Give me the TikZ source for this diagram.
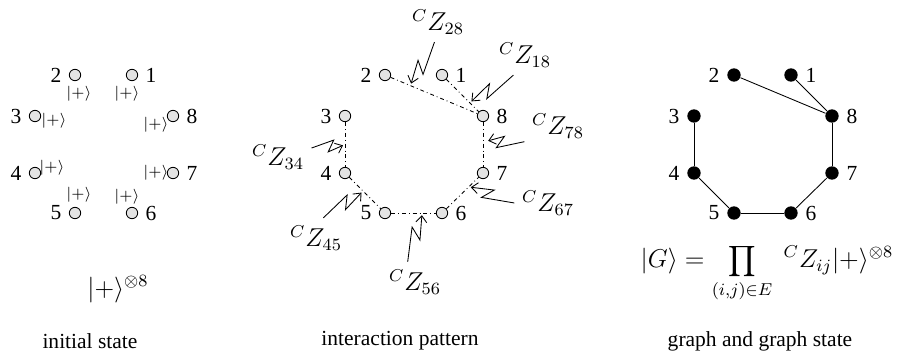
\documentclass[tikz,border=0pt]{standalone}
\usepackage{fontspec}
\setmainfont{Liberation Serif}
\usetikzlibrary{calc,arrows.meta}

\tikzset{
  qubit/.style={circle, draw, thin, fill=gray!22, minimum size=5.3pt, inner sep=0pt},
  vertex/.style={circle, fill=black, minimum size=6.2pt, inner sep=0pt},
  cz edge/.style={dash pattern=on 1.8pt off 1.4pt on 0.4pt off 1.4pt},
  ket/.style={font=\scriptsize, inner sep=0pt},
  zap/.style={-{Straight Barb[length=3pt,width=5pt]}, shorten >=1pt,
    to path={-- ($(\tikztostart)!0.68!(\tikztotarget)!2.6pt!90:(\tikztotarget)$)
             -- ($(\tikztostart)!0.48!(\tikztotarget)!2.6pt!-90:(\tikztotarget)$)
             -- (\tikztotarget) \tikztonodes}},
}

\begin{document}
\begin{tikzpicture}[x=0.465pt, y=-0.465pt]
  \useasboundingbox (0,0) rectangle (905,358);

  % the eight qubits, same layout in all three panels
  \foreach \n/\x/\y/\s in {1/132/75/0, 2/75/75/180, 3/35/116/180, 4/35/173/180,
                           5/75/213/180, 6/132/213/0, 7/173/173/0, 8/173/116/0} {
    \node[qubit, label=\s:\n] (a\n) at (\x,\y) {};
    \node[qubit, label=\s:\n] (b\n) at (\x+310,\y) {};
    \node[vertex, label=\s:\n] (c\n) at (\x+659,\y) {};
  }

  % initial state
  \node[ket] (k1) at (127,94) {$|+\rangle$};
  \node[ket] (k2) at (79,94) {$|+\rangle$};
  \node[ket] (k3) at (54,121) {$|+\rangle$};
  \node[ket] (k4) at (52,168) {$|+\rangle$};
  \node[ket] (k5) at (79,195) {$|+\rangle$};
  \node[ket] (k6) at (127,197) {$|+\rangle$};
  \node[ket] (k7) at (156,173) {$|+\rangle$};
  \node[ket] (k8) at (156,125) {$|+\rangle$};
  \node[font=\large] (init) at (118,289) {$|+\rangle^{\otimes 8}$};

  % interaction pattern and graph
  \foreach \u/\v in {2/8, 1/8, 3/4, 8/7, 4/5, 5/6, 6/7} {
    \draw[cz edge] (b\u) -- (b\v);
    \draw (c\u) -- (c\v);
  }

  \coordinate (e28) at ($(b2)!0.26!(b8)$);
  \coordinate (e18) at ($(b1)!0.68!(b8)$);
  \coordinate (e78) at ($(b8)!0.46!(b7)$);
  \coordinate (e67) at ($(b6)!0.65!(b7)$);
  \coordinate (e34) at ($(b3)!0.5!(b4)$);
  \coordinate (e45) at ($(b4)!0.45!(b5)$);
  \coordinate (e56) at ($(b5)!0.65!(b6)$);

  \node[font=\large] (z28) at (438,22) {${}^{C}Z_{28}$};
  \node[font=\large] (z18) at (525,55) {${}^{C}Z_{18}$};
  \node[font=\large] (z78) at (558,126) {${}^{C}Z_{78}$};
  \node[font=\large] (z67) at (548,203) {${}^{C}Z_{67}$};
  \node[font=\large] (z34) at (278,157) {${}^{C}Z_{34}$};
  \node[font=\large] (z45) at (316,238) {${}^{C}Z_{45}$};
  \node[font=\large] (z56) at (415,282) {${}^{C}Z_{56}$};

  \draw[zap] (z28.260) to (e28);
  \draw[zap] (z18.240) to (e18);
  \draw[zap, shorten >=2.5pt] (z78.205) to (e78);
  \draw[zap] (z67.west) to (e67);
  \draw[zap] (z34.15) to (e34);
  \draw[zap] (z45.70) to (e45);
  \draw[zap] (z56.110) to (e56);

  \node[font=\large] (gs) at (767,273)
    {$\displaystyle |G\rangle = \prod_{(i,j)\in E}\; {}^{C}Z_{ij}|+\rangle^{\otimes 8}$};

  % captions
  \node (t1) at (90,341) {initial state};
  \node (t2) at (400,341) {interaction pattern};
  \node (t3) at (760,341) {graph and graph state};
\end{tikzpicture}
\end{document}
